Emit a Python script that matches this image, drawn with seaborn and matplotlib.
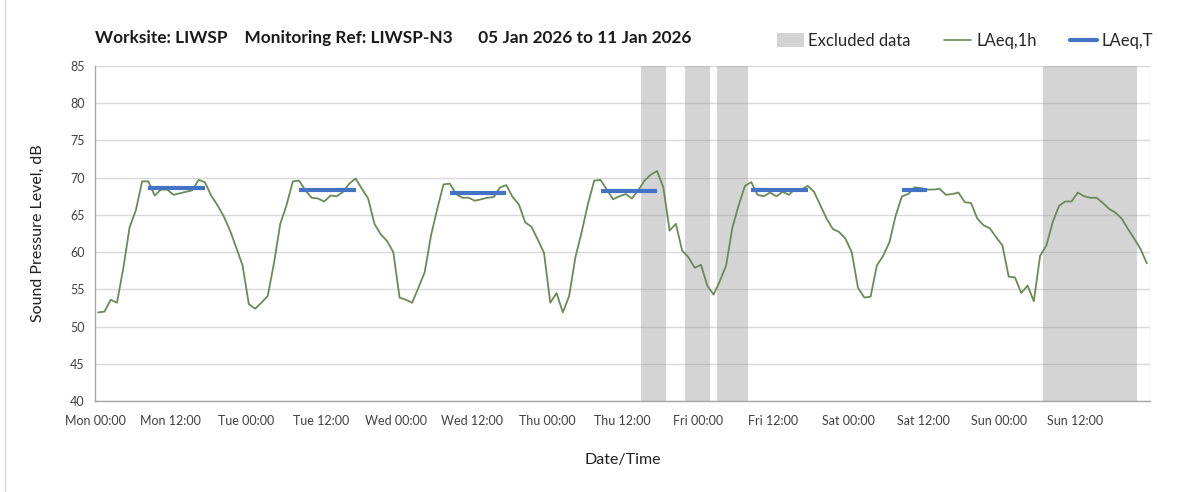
import numpy as np
import pandas as pd
import matplotlib
matplotlib.use("Agg")
import matplotlib.pyplot as plt
from matplotlib.patches import Patch
from matplotlib.lines import Line2D
import seaborn as sns

# ---------------- data ----------------
# hourly LAeq,1h values, Mon 05 Jan 2026 00:00 onwards (one per hour)
LAEQ_1H = [
    51.9, 52.0, 53.6, 53.2, 57.8, 63.3, 65.6, 69.5, 69.5, 67.6, 68.4, 68.4,
    67.7, 67.9, 68.1, 68.3, 69.7, 69.4, 67.6, 66.3, 64.8, 62.9, 60.6, 58.2,
    53.0, 52.4, 53.2, 54.1, 58.5, 63.8, 66.3, 69.5, 69.6, 68.3, 67.3, 67.2,
    66.8, 67.6, 67.5, 68.1, 69.2, 69.9, 68.5, 67.2, 63.8, 62.4, 61.5, 60.0,
    53.9, 53.6, 53.2, 55.2, 57.3, 62.2, 65.8, 69.1, 69.2, 67.8, 67.3, 67.3,
    66.9, 67.1, 67.3, 67.4, 68.7, 69.0, 67.4, 66.4, 64.0, 63.4, 61.7, 59.9,
    53.2, 54.5, 51.9, 54.1, 59.3, 62.7, 66.5, 69.6, 69.7, 68.4, 67.1, 67.5,
    67.8, 67.2, 68.3, 69.6, 70.4, 70.9, 68.7, 62.9, 63.8, 60.2, 59.3, 57.9,
    58.3, 55.5, 54.3, 56.1, 58.2, 63.3, 66.3, 68.9, 69.4, 67.7, 67.5, 68.0,
    67.5, 68.1, 67.7, 68.5, 68.4, 68.9, 68.1, 66.3, 64.5, 63.1, 62.7, 61.8,
    60.0, 55.2, 53.9, 54.0, 58.2, 59.5, 61.3, 64.9, 67.5, 67.8, 68.7, 68.6,
    68.4, 68.4, 68.5, 67.7, 67.8, 68.0, 66.7, 66.6, 64.5, 63.6, 63.2, 62.0,
    60.9, 56.7, 56.6, 54.5, 55.5, 53.4, 59.5, 60.9, 64.0, 66.2, 66.8, 66.8,
    68.0, 67.5, 67.3, 67.3, 66.6, 65.8, 65.3, 64.5, 63.1, 61.8, 60.4, 58.5,
]

# LAeq,T periods (hour index from Mon 00:00)
PERIOD_START = [8, 32, 56, 80, 104, 128]
PERIOD_END = [18, 42, 66, 90, 114, 133]
LAEQ_T = [68.6, 68.3, 67.9, 68.2, 68.3, 68.3]

# excluded data periods (hour index from Mon 00:00)
EXCL_START = [87, 94, 99, 151]
EXCL_END = [91, 98, 104, 166]

TICK_LABELS = ["Mon 00:00", "Mon 12:00", "Tue 00:00", "Tue 12:00",
               "Wed 00:00", "Wed 12:00", "Thu 00:00", "Thu 12:00",
               "Fri 00:00", "Fri 12:00", "Sat 00:00", "Sat 12:00",
               "Sun 00:00", "Sun 12:00"]

TITLE = "Worksite: LIWSP    Monitoring Ref: LIWSP-N3      05 Jan 2026 to 11 Jan 2026"

# ---------------- styling ----------------
sns.set_theme(style="white")
plt.rcParams["font.family"] = ["Lato", "DejaVu Sans"]

GREEN = "#6a8a58"
BLUE = "#4472C4"
GRID = "#d9d9d9"
TXT = "#404040"

fig = plt.figure(figsize=(12.03, 4.92), dpi=100)
ax = fig.add_axes([95 / 1203, 1 - 401 / 492, (1150 - 95) / 1203, (401 - 66) / 492])

# excluded spans
for s, e in zip(EXCL_START, EXCL_END):
    ax.axvspan(s, e, color="#9a9a9a", alpha=0.42, lw=0, zorder=1)

# hourly series
df = pd.DataFrame({"hour": np.arange(len(LAEQ_1H)) + 0.5, "level": LAEQ_1H})
sns.lineplot(data=df, x="hour", y="level", color=GREEN, lw=1.3, ax=ax, zorder=3)

# LAeq,T segments
rows = []
for i, (s, e, v) in enumerate(zip(PERIOD_START, PERIOD_END, LAEQ_T)):
    rows.append({"period": i, "hour": s + 0.5, "level": v})
    rows.append({"period": i, "hour": e - 0.5, "level": v})
dt = pd.DataFrame(rows)
sns.lineplot(data=dt, x="hour", y="level", units="period", estimator=None,
             color=BLUE, lw=3, ax=ax, zorder=4, solid_capstyle="butt")

# axes
ax.set_xlim(0, 168)
ax.set_ylim(40, 85)
ax.set_yticks(np.arange(40, 86, 5))
ax.set_xticks(np.arange(0, 168, 12))
ax.set_xticklabels(TICK_LABELS)
ax.set_xticks(np.arange(0, 169, 24), minor=True)
ax.grid(axis="y", which="major", color=GRID, lw=1)
ax.grid(axis="x", which="minor", color=GRID, lw=1)
ax.grid(axis="x", which="major", visible=False)
ax.set_axisbelow(True)

for side in ["top", "right"]:
    ax.spines[side].set_visible(False)
for side in ["left", "bottom"]:
    ax.spines[side].set_color("#a6a6a6")
    ax.spines[side].set_linewidth(1)

ax.tick_params(axis="both", which="major", labelsize=9, colors="#a6a6a6",
               labelcolor=TXT, length=4, direction="out", width=1)
ax.tick_params(axis="x", which="minor", length=6, colors="#a6a6a6", width=1)
ax.tick_params(axis="x", which="major", length=4, pad=6)

ax.set_xlabel("Date/Time", fontsize=11.5, color="#202020", labelpad=19)
ax.set_ylabel("Sound Pressure Level, dB", fontsize=11.5, color="#202020", labelpad=18)

# title
fig.text(95 / 1203, 1 - 38 / 492, TITLE, fontsize=12.4, fontweight="bold",
         color="#1a1a1a", ha="left", va="center")

# legend
handles = [Patch(facecolor="#d3d3d3", edgecolor="none"),
           Line2D([], [], color=GREEN, lw=1.2),
           Line2D([], [], color=BLUE, lw=3)]
labels = ["Excluded data", "LAeq,1h", "LAeq,T"]
fig.legend(handles, labels, loc="center right", bbox_to_anchor=(1168 / 1203, 1 - 41 / 492),
           ncol=3, frameon=False, fontsize=12, handlelength=1.6, handleheight=0.9,
           columnspacing=2.0, handletextpad=0.3, labelcolor="#262626")

# faint outer frame line at the left edge
fig.add_artist(Line2D([5 / 1203, 5 / 1203], [0, 1], color="#d9d9d9", lw=1,
                      transform=fig.transFigure))

fig.savefig("out.png", dpi=100)
